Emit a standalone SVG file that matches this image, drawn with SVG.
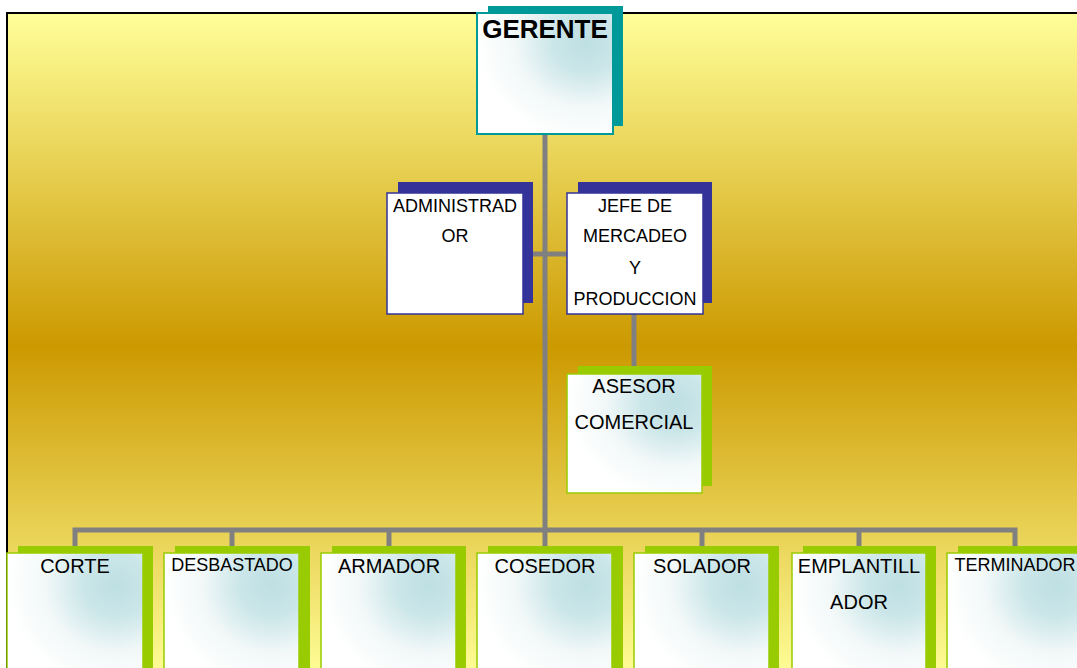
<svg xmlns="http://www.w3.org/2000/svg" width="1077" height="668" viewBox="0 0 1077 668">
<defs>
<linearGradient id="bg" x1="0" y1="13" x2="0" y2="680" gradientUnits="userSpaceOnUse">
<stop offset="0" stop-color="#FFFF99"/>
<stop offset="0.5" stop-color="#CC9900"/>
<stop offset="1" stop-color="#FFFF99"/>
</linearGradient>
<radialGradient id="boxfill" cx="0.8" cy="0.25" r="0.8" fx="0.8" fy="0.25">
<stop offset="0" stop-color="#BEDFE3"/>
<stop offset="0.3" stop-color="#CBE6E9"/>
<stop offset="0.65" stop-color="#F2F8F8"/>
<stop offset="1" stop-color="#FFFFFF"/>
</radialGradient>
<style>
.t{font-family:"Liberation Sans",Arial,sans-serif;fill:#000;text-anchor:middle}
.f20{font-size:20px}
.f18{font-size:18px}
.f17{font-size:18px}
.conn{stroke:#808080;stroke-width:5;fill:none}
.shT{fill:#009999}
.shB{fill:#333399}
.shG{fill:#99CC00}
.frT{fill:url(#boxfill);stroke:#009999;stroke-width:2}
.frB{fill:#FFFFFF;stroke:#333399;stroke-width:1.5}
.frG{fill:url(#boxfill);stroke:#99CC00;stroke-width:1.5}
</style>
</defs>
<rect x="7" y="13" width="1100" height="700" fill="url(#bg)" stroke="#000" stroke-width="2"/>
<g id="connectors">
<line class="conn" x1="545" y1="134" x2="545" y2="530"/>
<line class="conn" x1="523" y1="254" x2="567" y2="254"/>
<line class="conn" x1="634" y1="314" x2="634" y2="366"/>
<polyline class="conn" points="75,546 75,530 1015,530 1015,546"/>
<line class="conn" x1="232" y1="530" x2="232" y2="546"/>
<line class="conn" x1="389" y1="530" x2="389" y2="546"/>
<line class="conn" x1="545" y1="530" x2="545" y2="546"/>
<line class="conn" x1="702" y1="530" x2="702" y2="546"/>
<line class="conn" x1="859" y1="530" x2="859" y2="546"/>
</g>
<g id="gerente">
<rect class="shT" x="488" y="6" width="135" height="120"/>
<rect class="frT" x="477" y="13" width="136" height="121"/>
<text class="t" x="545" y="38" font-size="26" font-weight="bold">GERENTE</text>
</g>
<g id="administrador">
<rect class="shB" x="398" y="182" width="135" height="121"/>
<rect class="frB" x="387" y="193" width="136" height="121"/>
<text class="t f17" x="455" y="212">ADMINISTRAD</text>
<text class="t f17" x="455" y="242">OR</text>
</g>
<g id="jefe">
<rect class="shB" x="578" y="182" width="134" height="121"/>
<rect class="frB" x="567" y="193" width="136" height="121"/>
<text class="t f17" x="635" y="212">JEFE DE</text>
<text class="t f17" x="635" y="242">MERCADEO</text>
<text class="t f17" x="635" y="274">Y</text>
<text class="t f17" x="635" y="305">PRODUCCION</text>
</g>
<g id="asesor">
<rect class="shG" x="578" y="366" width="134" height="120"/>
<rect class="frG" x="567" y="374" width="135" height="119"/>
<text class="t f20" x="634" y="393">ASESOR</text>
<text class="t f20" x="634" y="429">COMERCIAL</text>
</g>
<g id="corte">
<rect class="shG" x="18" y="546" width="135" height="130"/>
<rect class="frG" x="7" y="553" width="136" height="130"/>
<text class="t f20" x="75" y="573">CORTE</text>
</g>
<g id="desbastado">
<rect class="shG" x="175" y="546" width="135" height="130"/>
<rect class="frG" x="164" y="553" width="135" height="130"/>
<text class="t f18" x="232" y="571">DESBASTADO</text>
</g>
<g id="armador">
<rect class="shG" x="332" y="546" width="134" height="130"/>
<rect class="frG" x="321" y="553" width="135" height="130"/>
<text class="t f20" x="389" y="573">ARMADOR</text>
</g>
<g id="cosedor">
<rect class="shG" x="488" y="546" width="135" height="130"/>
<rect class="frG" x="477" y="553" width="135" height="130"/>
<text class="t f20" x="545" y="573">COSEDOR</text>
</g>
<g id="solador">
<rect class="shG" x="645" y="546" width="134" height="130"/>
<rect class="frG" x="634" y="553" width="135" height="130"/>
<text class="t f20" x="702" y="573">SOLADOR</text>
</g>
<g id="emplantillador">
<rect class="shG" x="803" y="546" width="133" height="130"/>
<rect class="frG" x="792" y="553" width="134" height="130"/>
<text class="t f20" x="859" y="573">EMPLANTILL</text>
<text class="t f20" x="859" y="609">ADOR</text>
</g>
<g id="terminador">
<rect class="shG" x="958" y="546" width="135" height="130"/>
<rect class="frG" x="947" y="553" width="136" height="130"/>
<text class="t f18" x="1015" y="571">TERMINADOR</text>
</g>
</svg>
